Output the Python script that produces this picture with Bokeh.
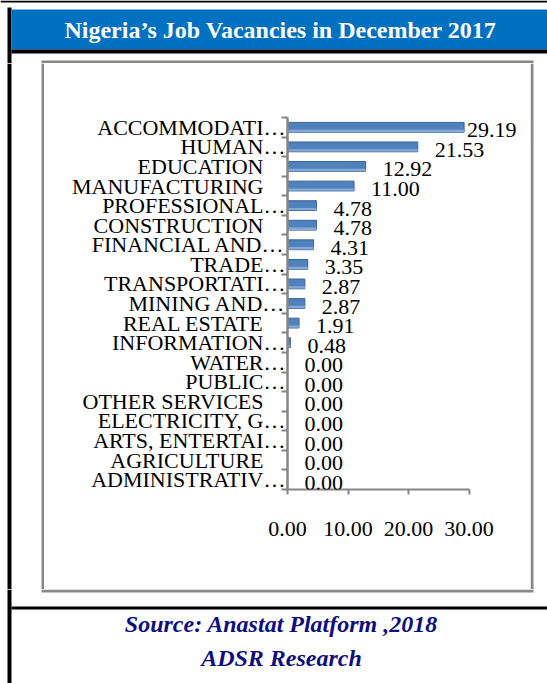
from bokeh.plotting import figure
from bokeh.layouts import column, row
from bokeh.models import (Range1d, FixedTicker, LabelSet, ColumnDataSource,
                          LinearAxis, NumeralTickFormatter, Plot)
from bokeh.core.properties import value
from bokeh.embed import file_html
from bokeh.resources import INLINE

# ---------------- data ----------------
title_text = "Nigeria’s Job Vacancies in December 2017"
source_lines = ["Source: Anastat Platform ,2018", "ADSR Research"]

categories = [
    "ACCOMMODATI…", "HUMAN…", "EDUCATION", "MANUFACTURING", "PROFESSIONAL…",
    "CONSTRUCTION", "FINANCIAL AND…", "TRADE…", "TRANSPORTATI…", "MINING AND…",
    "REAL ESTATE", "INFORMATION…", "WATER…", "PUBLIC…", "OTHER SERVICES",
    "ELECTRICITY, G…", "ARTS, ENTERTAI…", "AGRICULTURE", "ADMINISTRATIV…",
]
values = [29.19, 21.53, 12.92, 11.00, 4.78, 4.78, 4.31, 3.35, 2.87, 2.87,
          1.91, 0.48, 0.00, 0.00, 0.00, 0.00, 0.00, 0.00, 0.00]
x_ticks = [0, 10, 20, 30]

# ---------------- styles ----------------
SERIF = "Liberation Serif"
AX = "#868686"
GRAY = "#898989"
BLUE = "#0070C0"
NAVY = "#0D0D80"
BAR = "#4F81BD"
BAR_LINE = "#3A6397"
BAR_LIGHT = "#86A9D6"
HAS_FRAME_ALIGN = "frame_align" in Plot.properties()

n = len(categories)
ypos = [n - 1 - i for i in range(n)]
val_labels = [f"{v:.2f}" for v in values]
# trailing em space so that all label letters share the same right edge
disp_cats = [c if c.endswith("…") else c + "\u2003" for c in categories]
vmax = max(values)
label_dx = [3 if v == vmax else 17 for v in values]

src = ColumnDataSource(dict(cat=categories, value=values, ypos=ypos,
                            hl=[y - 0.18 for y in ypos],
                            label=val_labels, dx=label_dx))

# ---------------- chart ----------------
CW, CH = 486, 526
chart = figure(width=CW, height=CH, output_backend="svg", toolbar_location=None,
               x_range=Range1d(0, 40), y_range=Range1d(-0.5, n - 0.5),
               x_axis_location=None, y_axis_location=None,
               min_border_left=243, min_border_right=1,
               min_border_top=54, min_border_bottom=100)
chart.outline_line_color = None
chart.xgrid.visible = False
chart.ygrid.visible = False
chart.background_fill_color = "white"
chart.border_fill_color = "white"

xaxis = LinearAxis(ticker=FixedTicker(ticks=x_ticks),
                   formatter=NumeralTickFormatter(format="0.00"),
                   bounds=(x_ticks[0], x_ticks[-1]))
xaxis.axis_line_color = AX
xaxis.axis_line_width = 2
xaxis.major_tick_line_color = AX
xaxis.major_tick_line_width = 2
xaxis.major_tick_in = 0
xaxis.major_tick_out = 5
xaxis.minor_tick_line_color = None
xaxis.major_label_text_font = SERIF
xaxis.major_label_text_font_size = "22px"
xaxis.major_label_text_color = "black"
xaxis.major_label_standoff = 27
chart.add_layout(xaxis, "below")

yaxis = LinearAxis(ticker=FixedTicker(ticks=ypos,
                                      minor_ticks=[k - 0.5 for k in range(n + 1)]),
                   major_label_overrides=dict(zip(ypos, disp_cats)))
yaxis.axis_line_color = AX
yaxis.axis_line_width = 2.5
yaxis.major_tick_line_color = None
yaxis.major_tick_in = 0
yaxis.major_tick_out = 0
yaxis.minor_tick_line_color = AX
yaxis.minor_tick_line_width = 2
yaxis.minor_tick_in = 0
yaxis.minor_tick_out = 6
yaxis.major_label_text_font = SERIF
yaxis.major_label_text_font_size = "22px"
yaxis.major_label_text_color = "black"
yaxis.major_label_standoff = -4
chart.add_layout(yaxis, "left")

chart.hbar(y="ypos", left=0, right="value", height=0.5, source=src,
           fill_color=BAR, line_color=BAR_LINE, line_width=1)
chart.hbar(y="hl", left=0, right="value", height=0.12, source=src,
           fill_color=BAR_LIGHT, line_color=None)

chart.add_layout(LabelSet(x="value", y="ypos", text="label", source=src,
                          x_offset="dx", y_offset=-3, text_baseline="middle",
                          text_align="left", text_font=value(SERIF),
                          text_font_size="22px", text_color="black"))

# ---------------- decorative frames (pixel coordinates) ----------------
def deco(w, h, x0, y0):
    f = figure(width=w, height=h, output_backend="svg", toolbar_location=None,
               x_range=Range1d(x0, x0 + w), y_range=Range1d(y0 + h, y0),
               x_axis_location=None, y_axis_location=None, min_border=0)
    f.outline_line_color = None
    f.xgrid.visible = False
    f.ygrid.visible = False
    f.background_fill_color = "white"
    f.border_fill_color = "white"
    return f

def rect(f, l, r, t, b, color):
    f.quad(left=[l], right=[r], top=[t], bottom=[b], fill_color=color,
           line_color=None)

top = deco(547, 63, 0, 0)
rect(top, 0, 547, 0, 2, "black")
rect(top, 7, 11, 7, 63, "black")
rect(top, 11, 547, 9, 49, BLUE)
rect(top, 11, 547, 49, 53, "black")
rect(top, 41, 533, 60, 63, GRAY)
top.text(x=[280], y=[29.5], text=[title_text], text_align="center",
         text_baseline="middle", text_font=value(SERIF), text_font_style="bold",
         text_font_size="24px", text_color="white")

left = deco(44, CH, 0, 63)
rect(left, 7, 11, 63, 589, "black")
rect(left, 41, 44, 63, 589, GRAY)

right = deco(17, CH, 530, 63)
rect(right, 530, 533, 63, 589, GRAY)

bottom = deco(547, 94, 0, 589)
rect(bottom, 7, 11, 589, 683, "black")
rect(bottom, 41, 533, 589, 592, GRAY)
rect(bottom, 11, 547, 606, 609, "black")
bottom.text(x=[281, 281], y=[623, 657], text=source_lines, text_align="center",
            text_baseline="middle", text_font=value(SERIF),
            text_font_style="bold italic", text_font_size="24px", text_color=NAVY)

if HAS_FRAME_ALIGN:
    for f in (top, left, chart, right, bottom):
        f.frame_align = False

layout = column(top, row(left, chart, right, spacing=0), bottom, spacing=0)

open("out.html", "w").write(file_html(layout, INLINE))
